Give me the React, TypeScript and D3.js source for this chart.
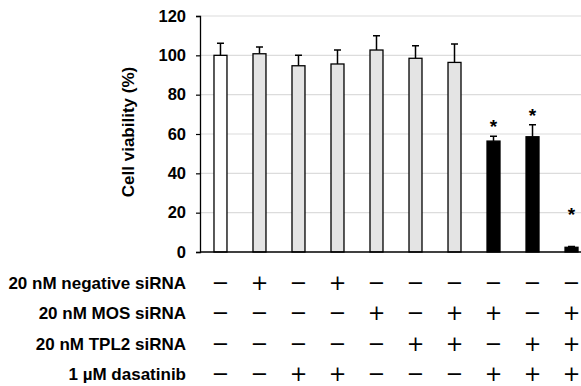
import React, { useEffect, useRef } from "react";
import * as d3 from "d3";

const conditions = ["C1", "C2", "C3", "C4", "C5", "C6", "C7", "C8", "C9", "C10"];
const viability = [100, 100.8, 94.7, 95.6, 102.7, 98.5, 96.4, 56.4, 58.6, 2.4];
const errorBars = [6.1, 3.4, 5.3, 7.1, 7.3, 6.4, 9.3, 2.4, 6.1, 0.4];
const barGroup = ["control", "single", "single", "single", "single", "single", "single", "combo", "combo", "combo"];
// y value where the significance asterisk sits (null = none)
const starLevel = [null, null, null, null, null, null, null, 65.8, 71.3, 21];
const yTicks = [0, 20, 40, 60, 80, 100, 120];

const treatmentLabels = ["20 nM negative siRNA", "20 nM MOS siRNA", "20 nM TPL2 siRNA", "1 \u00b5M dasatinib"];
const negativeSi = [0, 1, 0, 1, 0, 0, 0, 0, 0, 0];
const mosSi = [0, 0, 0, 0, 1, 0, 1, 1, 0, 1];
const tpl2Si = [0, 0, 0, 0, 0, 1, 1, 0, 1, 1];
const dasatinib = [0, 0, 1, 1, 0, 0, 0, 1, 1, 1];

const groupFill: Record<string, string> = { control: "#ffffff", single: "#e4e4e4", combo: "#000000" };

const App = () => {
  const ref = useRef<SVGSVGElement>(null);

  useEffect(() => {
    const svg = d3.select(ref.current);
    svg.selectAll("*").remove();
    const font = "Liberation Sans, Arial, sans-serif";

    const x = d3.scaleBand().domain(conditions).range([201, 591]).paddingInner(0.667).paddingOuter(0.333);
    const y = d3.scaleLinear().domain([0, 120]).range([252, 16]);

    // gridlines
    svg.append("g")
      .selectAll("line")
      .data(yTicks.filter((t) => t > 0))
      .enter().append("line")
      .attr("x1", 200).attr("x2", 581)
      .attr("y1", (d) => y(d)).attr("y2", (d) => y(d))
      .attr("stroke", "#dcdcdc").attr("stroke-width", 1.2);

    const yAxis = svg.append("g")
      .attr("transform", "translate(200,0)")
      .call(d3.axisLeft(y).tickValues(yTicks).tickSize(4).tickPadding(10));
    yAxis.select(".domain").attr("stroke", "#000").attr("stroke-width", 1.3);
    yAxis.selectAll(".tick line").attr("stroke", "#000").attr("stroke-width", 1.2);
    yAxis.selectAll("text")
      .attr("font-family", font).attr("font-size", 16.5).attr("font-weight", "bold").attr("fill", "#000");

    svg.append("text")
      .attr("transform", "translate(133.5,132) rotate(-90)")
      .attr("text-anchor", "middle")
      .attr("font-family", font).attr("font-size", 17).attr("font-weight", "bold")
      .text("Cell viability (%)");

    const bars = svg.append("g");
    // error bars
    bars.selectAll(".err")
      .data(conditions)
      .enter().append("path")
      .attr("class", "err")
      .attr("d", (d, i) => {
        const cx = (x(d) as number) + x.bandwidth() / 2;
        const top = y(viability[i] + errorBars[i]);
        return `M${cx},${y(viability[i])}V${top}M${cx - 3.5},${top}H${cx + 3.5}`;
      })
      .attr("stroke", "#000").attr("stroke-width", 1.5).attr("fill", "none");

    bars.selectAll(".bar")
      .data(conditions)
      .enter().append("rect")
      .attr("class", "bar")
      .attr("x", (d) => x(d) as number)
      .attr("y", (d, i) => y(viability[i]))
      .attr("width", x.bandwidth())
      .attr("height", (d, i) => 252 - y(viability[i]))
      .attr("fill", (d, i) => groupFill[barGroup[i]])
      .attr("stroke", "#000").attr("stroke-width", 1.3);

    bars.selectAll(".star")
      .data(conditions.filter((d, i) => starLevel[i] !== null))
      .enter().append("text")
      .attr("x", (d) => (x(d) as number) + x.bandwidth() / 2)
      .attr("y", (d) => y(starLevel[conditions.indexOf(d)] as number))
      .attr("dy", "0.56em")
      .attr("text-anchor", "middle")
      .attr("font-family", font).attr("font-size", 19).attr("font-weight", "bold")
      .text("*");

    // x axis line
    svg.append("line")
      .attr("x1", 200).attr("x2", 581).attr("y1", 252).attr("y2", 252)
      .attr("stroke", "#000").attr("stroke-width", 1.3);

    // treatment table
    const rows = [negativeSi, mosSi, tpl2Si, dasatinib];
    const rowY = d3.scalePoint().domain(treatmentLabels).range([283, 374]);
    treatmentLabels.forEach((label, r) => {
      const ry = rowY(label) as number;
      svg.append("text")
        .attr("x", 186).attr("y", ry)
        .attr("dy", "0.36em")
        .attr("text-anchor", "end")
        .attr("font-family", font).attr("font-size", 17).attr("font-weight", "bold")
        .text(label);
      svg.append("g")
        .selectAll("text")
        .data(conditions)
        .enter().append("text")
        .attr("x", (d) => (x(d) as number) + x.bandwidth() / 2)
        .attr("y", ry)
        .attr("dy", "0.34em")
        .attr("text-anchor", "middle")
        .attr("font-family", "DejaVu Sans, sans-serif").attr("font-size", 21)
        .text((d, i) => (rows[r][i] ? "+" : "\u2212"));
    });
  }, []);

  return (
    <svg ref={ref} width={581} height={386} style={{ position: "absolute", left: 0, top: 0, background: "#fff" }} />
  );
};

export default App;
